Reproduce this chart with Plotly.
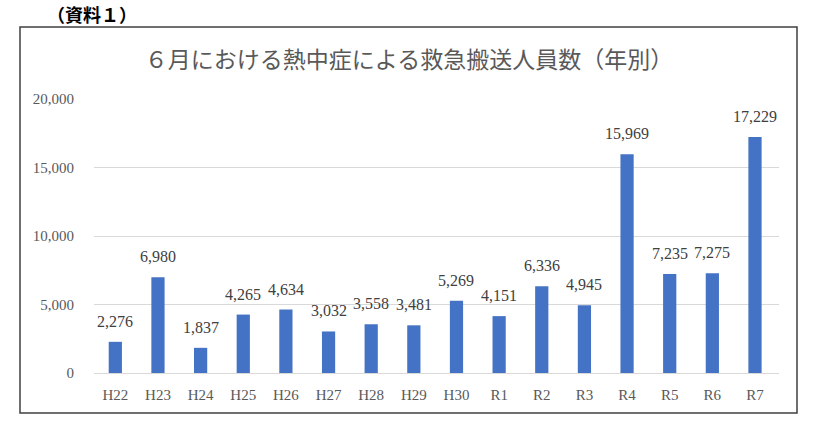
import plotly.graph_objects as go

# data
years = ["H22", "H23", "H24", "H25", "H26", "H27", "H28", "H29",
         "H30", "R1", "R2", "R3", "R4", "R5", "R6", "R7"]
counts = [2276, 6980, 1837, 4265, 4634, 3032, 3558, 3481,
          5269, 4151, 6336, 4945, 15969, 7235, 7275, 17229]
y_ticks = [0, 5000, 10000, 15000, 20000]

W, H = 819, 436
L, T = 94, 99
R, B = W - 779, H - 373
pw, ph = W - L - R, H - T - B

serif = "Liberation Serif, DejaVu Serif, serif"

fig = go.Figure()
fig.add_trace(go.Bar(
    x=years, y=counts,
    marker=dict(color="#4472c4", line=dict(width=0)),
    cliponaxis=False,
))

# value labels, a bit higher above the bars than plotly's own text
for yr, v in zip(years, counts):
    fig.add_annotation(x=yr, y=v, text=f"{v:,}", showarrow=False,
                       xanchor="center", yanchor="bottom", yshift=10,
                       font=dict(family=serif, size=16, color="#404040"))

# chart border box (page px -> paper)
def px_x(p):
    return (p - L) / pw

def px_y(p):
    return (H - B - p) / ph

fig.add_shape(type="rect", xref="paper", yref="paper",
              x0=px_x(20), x1=px_x(797), y0=px_y(413), y1=px_y(27),
              line=dict(color="#404040", width=1.5), layer="below")

fig.add_annotation(text="<b>（資料１）</b>", xref="paper", yref="paper",
                   x=px_x(45), y=px_y(14), xanchor="left", yanchor="middle",
                   showarrow=False,
                   font=dict(family="Noto Sans CJK JP", size=18, color="#000000"))

fig.update_layout(
    width=W, height=H,
    margin=dict(l=L, r=R, t=T, b=B),
    paper_bgcolor="white", plot_bgcolor="white",
    showlegend=False,
    bargap=0.69,
    title=dict(text="６月における熱中症による救急搬送人員数（年別）",
               x=409 / W, xanchor="center",
               y=1 - 60 / H, yanchor="middle",
               font=dict(family="Noto Sans CJK JP", size=23, color="#595959")),
    xaxis=dict(showgrid=False, showline=True, linecolor="#d9d9d9",
               ticks="", ticklabelstandoff=8,
               tickfont=dict(family=serif, size=15, color="#595959")),
    yaxis=dict(range=[0, 20000], tickvals=y_ticks,
               ticktext=[f"{v:,}" for v in y_ticks],
               showgrid=True, gridcolor="#d9d9d9", zeroline=False,
               showline=False, ticks="", ticklabelstandoff=19,
               tickfont=dict(family=serif, size=15, color="#595959")),
)

# drop the page's default body margin so the figure sits at the corner
fig.write_html("out.html", config={"displayModeBar": False},
               post_script="document.body.style.margin='0';")
